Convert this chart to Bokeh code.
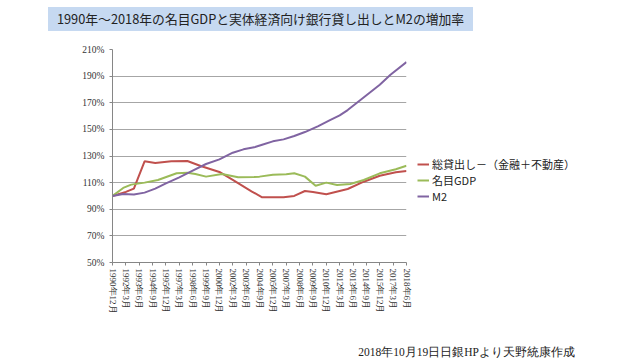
from bokeh.plotting import figure
from bokeh.models import Range1d, FixedTicker, Legend, LegendItem, Div
from bokeh.layouts import column
from bokeh.embed import file_html
from bokeh.resources import INLINE

# quarter index: 0 = 1990年12月 ... 110 = 2018年6月
tick_pos = list(range(0, 111, 5))
tick_labels = ["1990年12月", "1992年3月", "1993年6月", "1994年9月", "1995年12月",
               "1997年3月", "1998年6月", "1999年9月", "2000年12月", "2002年3月",
               "2003年6月", "2004年9月", "2005年12月", "2007年3月", "2008年6月",
               "2009年9月", "2010年12月", "2012年3月", "2013年6月", "2014年9月",
               "2015年12月", "2017年3月", "2018年6月"]
y_ticks = [50, 70, 90, 110, 130, 150, 170, 190, 210]
y_tick_labels = ["50%", "70%", "90%", "110%", "130%", "150%", "170%", "190%", "210%"]

loan_q = [0, 5, 8, 12, 16, 22, 28, 33, 40, 45, 52, 56, 64, 68, 72, 75, 80, 88, 94, 100, 106, 110]
loan_v = [100, 103, 105.5, 126, 124.8, 126, 126.2, 122.5, 118, 112, 103.5, 99, 99, 100,
          103.7, 103, 101.3, 105.2, 110.7, 115.2, 117.8, 118.7]

gdp_q = [0, 4, 7, 12, 17, 24, 28, 31, 35, 41, 47, 53, 55, 60, 65, 68, 72, 76, 80, 84, 89, 94, 100, 106, 110]
gdp_v = [100, 106, 108.5, 110, 112, 117, 117.5, 116.5, 114.5, 116.5, 114, 114.2, 114.5, 116, 116.3,
         117, 114.5, 107.7, 110, 108.2, 109, 112, 117, 120, 122.7]

m2_q = [0, 4, 8, 12, 16, 20, 25, 30, 35, 40, 45, 49, 53, 56, 60, 64, 68, 72, 77, 81, 85, 88, 93, 100, 104, 110]
m2_v = [100, 101.5, 101, 102.5, 105.5, 109.5, 114, 119, 124, 127.5, 132.5, 135, 136.5, 138.5, 141,
        142.5, 145, 148, 152.5, 156.5, 160.5, 164.5, 172.5, 183.5, 191, 200.5]

series_names = ["総貸出し－（金融＋不動産）", "名目GDP", "M2"]
series_colors = ["#C0504D", "#9BBB59", "#8064A2"]

title_text = "1990年～2018年の名目GDPと実体経済向け銀行貸し出しとM2の増加率"
footer_text = "2018年10月19日日銀HPより天野統康作成"

title_div = Div(
    text=('<div style="margin-top:7px;margin-left:48px;width:425px;height:24px;'
          'background:#C6D9F1;font-family:\'Noto Sans CJK JP\';font-size:12.8px;'
          'line-height:24px;text-align:center;color:#222222;white-space:nowrap;">'
          + title_text + '</div>'),
    width=640, height=31, margin=0)

p = figure(frame_width=294, frame_height=213,
           min_border_left=112, min_border_top=18, min_border_right=234, min_border_bottom=82,
           x_range=Range1d(0, 110), y_range=Range1d(50, 210),
           output_backend="svg", toolbar_location=None, margin=0)
p.outline_line_color = None
p.background_fill_color = "white"
p.border_fill_color = "white"

p.xgrid.grid_line_color = None
p.ygrid.grid_line_color = "#A6A6A6"
p.ygrid.grid_line_width = 1

p.yaxis.ticker = FixedTicker(ticks=y_ticks)
p.yaxis.major_label_overrides = dict(zip(y_ticks, y_tick_labels))
p.yaxis.minor_tick_line_color = None
p.yaxis.major_tick_in = 0
p.yaxis.major_tick_out = 3
p.yaxis.major_label_standoff = 5
p.yaxis.axis_line_color = "#868686"
p.yaxis.major_tick_line_color = "#868686"
p.yaxis.major_label_text_font = "Liberation Serif"
p.yaxis.major_label_text_font_size = "9.5px"
p.yaxis.major_label_text_color = "#333333"

p.xaxis.ticker = FixedTicker(ticks=tick_pos)
p.xaxis.major_label_overrides = dict(zip(tick_pos, tick_labels))
p.xaxis.minor_tick_line_color = None
p.xaxis.major_tick_in = 0
p.xaxis.major_tick_out = 3
p.xaxis.major_label_standoff = 3
p.xaxis.major_label_orientation = "vertical"
p.xaxis.axis_line_color = "#868686"
p.xaxis.major_tick_line_color = "#868686"
p.xaxis.major_label_text_font = "Liberation Serif"
p.xaxis.major_label_text_font_size = "9px"
p.xaxis.major_label_text_color = "#333333"

r1 = p.line(loan_q, loan_v, line_color=series_colors[0], line_width=2)
r2 = p.line(gdp_q, gdp_v, line_color=series_colors[1], line_width=2)
r3 = p.line(m2_q, m2_v, line_color=series_colors[2], line_width=2)

legend = Legend(items=[LegendItem(label=series_names[0], renderers=[r1]),
                       LegendItem(label=series_names[1], renderers=[r2]),
                       LegendItem(label=series_names[2], renderers=[r3])],
                location=(11, 58))
legend.border_line_color = None
legend.background_fill_alpha = 0
legend.padding = 0
legend.margin = 0
legend.spacing = 0
legend.label_height = 14
legend.glyph_height = 14
legend.glyph_width = 12
legend.label_standoff = 3
legend.label_text_font = "Noto Sans CJK JP"
legend.label_text_font_size = "11px"
legend.label_text_color = "#222222"
p.add_layout(legend, "right")

footer_div = Div(
    text=('<div style="width:575px;height:15px;font-family:\'Liberation Serif\';'
          'font-size:11.5px;line-height:15px;text-align:right;color:#222222;white-space:nowrap;">'
          + footer_text + '</div>'),
    width=640, height=15, margin=0)

layout = column(title_div, p, footer_div, spacing=0)

open("out.html", "w").write(file_html(layout, INLINE))
